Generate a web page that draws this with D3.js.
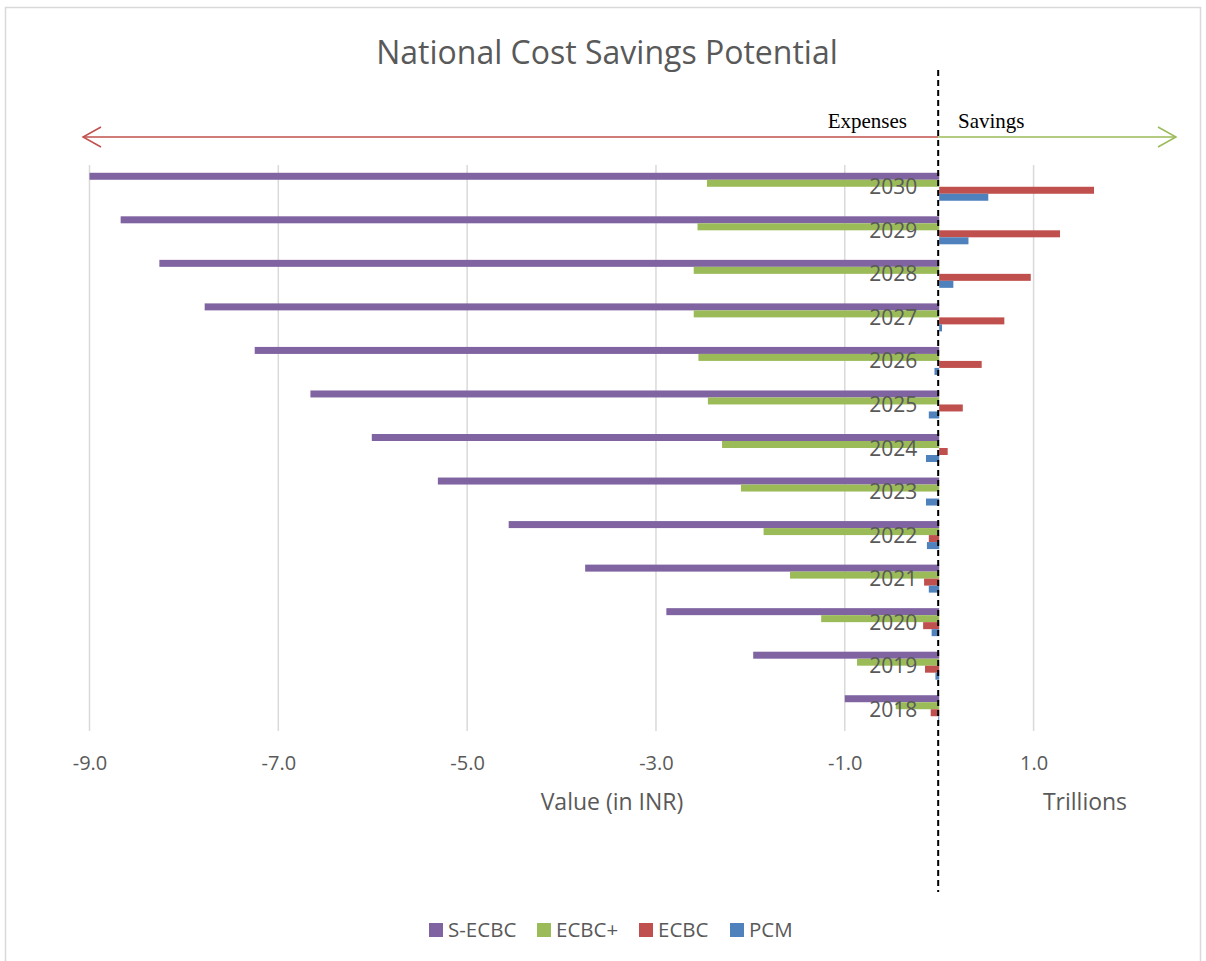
<!DOCTYPE html>
<html>
<head>
<meta charset="utf-8">
<script src="https://cdn.jsdelivr.net/npm/d3@7"></script>
<style>
  html, body { margin: 0; padding: 0; background: #fff; }
  svg { display: block; font-family: "Open Sans", sans-serif; }
</style>
</head>
<body>
<svg id="chart" width="1206" height="961"></svg>
<script>
// ---- data ----
const years = ["2030","2029","2028","2027","2026","2025","2024","2023","2022","2021","2020","2019","2018"];
const seriesNames = ["S-ECBC", "ECBC+", "ECBC", "PCM"];
const seriesColors = ["#8064a2", "#9bbb59", "#c0504d", "#4f81bd"];
const sEcbc  = [-9.00, -8.67, -8.26, -7.78, -7.25, -6.66, -6.01, -5.31, -4.56, -3.75, -2.89, -1.97, -1.00];
const ecbcPlus = [-2.46, -2.56, -2.60, -2.60, -2.55, -2.45, -2.30, -2.10, -1.86, -1.58, -1.25, -0.87, -0.46];
const ecbc   = [1.64, 1.28, 0.97, 0.69, 0.45, 0.25, 0.09, 0.00, -0.11, -0.16, -0.17, -0.15, -0.09];
const pcm    = [0.52, 0.31, 0.15, 0.03, -0.05, -0.11, -0.14, -0.14, -0.13, -0.11, -0.08, -0.04, -0.01];
const tickValues = [-9, -7, -5, -3, -1, 1];
const tickLabels = ["-9.0", "-7.0", "-5.0", "-3.0", "-1.0", "1.0"];
const xMin = -9, xMax = 2;

const allSeries = [sEcbc, ecbcPlus, ecbc, pcm];

const svg = d3.select("#chart");
const textColor = "#595959";
const sans = "'Open Sans', sans-serif";
const serif = "'Liberation Serif', 'Times New Roman', serif";

// border
svg.append("rect").attr("x", 5.5).attr("y", 7.5).attr("width", 1195).attr("height", 980)
  .attr("fill", "none").attr("stroke", "#d9d9d9").attr("stroke-width", 1.5);

// scales
const x = d3.scaleLinear().domain([xMin, xMax]).range([89.5, 89.5 + 11 * 94.41]);
const y = d3.scaleBand().domain(years).range([165, 731]).padding(0);
const groupH = y.bandwidth() * 0.643;
const inner = d3.scaleBand().domain(seriesNames).range([0, groupH]).padding(0);
const groupOff = (y.bandwidth() - groupH) / 2;

// gridlines
svg.append("g").selectAll("line").data(tickValues).join("line")
  .attr("x1", d => x(d)).attr("x2", d => x(d))
  .attr("y1", 165).attr("y2", 731)
  .attr("stroke", "#d9d9d9").attr("stroke-width", 1.5);

// bars
const rows = [];
years.forEach((yr, i) => {
  seriesNames.forEach((s, j) => rows.push({ yr, s, j, v: allSeries[j][i] }));
});
svg.append("g").selectAll("rect").data(rows).join("rect")
  .attr("x", d => x(Math.min(0, d.v)))
  .attr("width", d => Math.abs(x(d.v) - x(0)))
  .attr("y", d => y(d.yr) + groupOff + inner(d.s))
  .attr("height", inner.bandwidth())
  .attr("fill", d => seriesColors[d.j]);

// category labels
svg.append("g").selectAll("text").data(years).join("text")
  .attr("x", x(0) - 22)
  .attr("y", d => y(d) + y.bandwidth() / 2)
  .attr("dy", "0.36em")
  .attr("text-anchor", "end")
  .attr("fill", textColor)
  .style("font-family", sans)
  .attr("font-size", 21)
  .text(d => d);

// x axis tick labels
const xAxis = d3.axisBottom(x).tickValues(tickValues)
  .tickFormat((d, i) => tickLabels[i]).tickSize(0).tickPadding(0);
const ax = svg.append("g").attr("transform", "translate(0,755)").call(xAxis);
ax.select(".domain").remove();
ax.selectAll("text").attr("fill", textColor).attr("font-size", 20)
  .style("font-family", sans).attr("dy", "0.36em").attr("y", 8);

// axis titles
svg.append("text").attr("x", 612).attr("y", 802).attr("dy", "0.36em")
  .attr("text-anchor", "middle").attr("fill", textColor).attr("font-size", 23)
  .style("font-family", sans)
  .text("Value (in INR)");
svg.append("text").attr("x", 1085).attr("y", 802).attr("dy", "0.36em")
  .attr("text-anchor", "middle").attr("fill", textColor).attr("font-size", 23)
  .style("font-family", sans)
  .text("Trillions");

// title
svg.append("text").attr("x", 607).attr("y", 52).attr("dy", "0.36em")
  .attr("text-anchor", "middle").attr("fill", textColor).attr("font-size", 32)
  .style("font-family", sans)
  .text("National Cost Savings Potential");

// arrows
const ay = 137;
const z = x(0) - 1;
svg.append("line").attr("x1", z).attr("x2", 83).attr("y1", ay).attr("y2", ay)
  .attr("stroke", "#c0504d").attr("stroke-width", 1.5);
svg.append("polyline").attr("points", `${101},${ay - 10} ${83},${ay} ${101},${ay + 10}`)
  .attr("fill", "none").attr("stroke", "#c0504d").attr("stroke-width", 1.5);
svg.append("line").attr("x1", z).attr("x2", 1176).attr("y1", ay).attr("y2", ay)
  .attr("stroke", "#9bbb59").attr("stroke-width", 1.5);
svg.append("polyline").attr("points", `${1158},${ay - 10} ${1176},${ay} ${1158},${ay + 10}`)
  .attr("fill", "none").attr("stroke", "#9bbb59").attr("stroke-width", 1.5);

svg.append("text").attr("x", 907).attr("y", 128).attr("text-anchor", "end")
  .style("font-family", serif).attr("font-size", 21)
  .attr("fill", "#000").text("Expenses");
svg.append("text").attr("x", 958).attr("y", 128).attr("text-anchor", "start")
  .style("font-family", serif).attr("font-size", 21)
  .attr("fill", "#000").text("Savings");

// dashed zero line
svg.append("line").attr("x1", z).attr("x2", z).attr("y1", 70).attr("y2", 892)
  .attr("stroke", "#000").attr("stroke-width", 2).attr("stroke-dasharray", "6,4");

// legend
const legendX = [429, 537, 639, 730];
const lg = svg.append("g").selectAll("g").data(seriesNames).join("g")
  .attr("transform", (d, i) => `translate(${legendX[i]},930)`);
lg.append("rect").attr("x", 0).attr("y", -7).attr("width", 14).attr("height", 14)
  .attr("fill", (d, i) => seriesColors[i]);
lg.append("text").attr("x", 19).attr("y", 0).attr("dy", "0.36em")
  .attr("fill", textColor).attr("font-size", 20.5)
  .style("font-family", sans).text(d => d);
</script>
</body>
</html>
